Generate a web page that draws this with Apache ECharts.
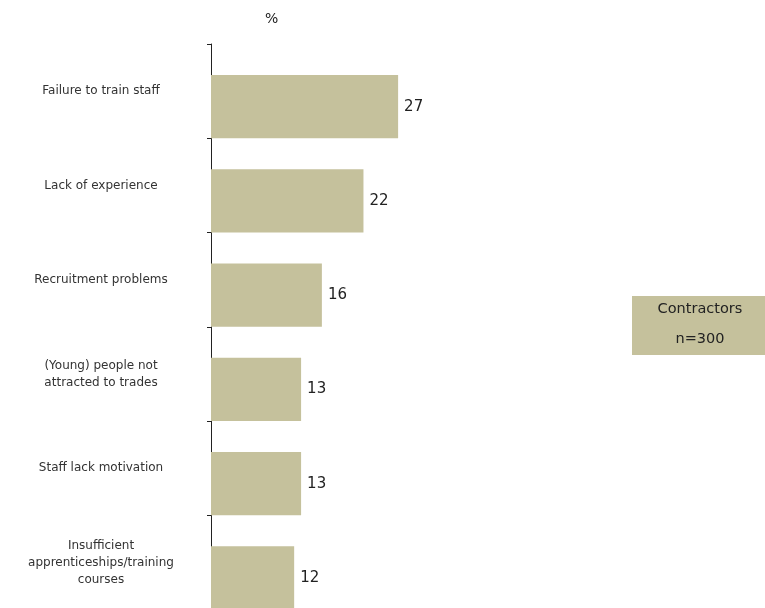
<!DOCTYPE html>
<html>
<head>
<meta charset="utf-8">
<script src="https://cdn.jsdelivr.net/npm/echarts@6/dist/echarts.min.js"></script>
<style>html,body{margin:0;padding:0;background:#fff;}#c{width:765px;height:608px;}</style>
</head>
<body>
<div id="c"></div>
<script>
const categories = [
  "Failure to train staff",
  "Lack of experience",
  "Recruitment problems",
  "(Young) people not\nattracted to trades",
  "Staff lack motivation",
  "Insufficient\napprenticeships/training\ncourses"
];
const values = [27, 22, 16, 13, 13, 12];
const unitLabel = "%";
const legendLines = ["Contractors", "n=300"];

const barColor = "#C5C19C";
const font = "'DejaVu Sans', 'Liberation Sans', sans-serif";
const chart = echarts.init(document.getElementById('c'));
chart.setOption({
  animation: false,
  grid: { left: 211, top: 44, width: 346.5, height: 565.5, containLabel: false, outerBoundsMode: 'none' },
  xAxis: { type: 'value', min: 0, max: 50, show: false },
  yAxis: {
    type: 'category', inverse: true, data: categories,
    axisLine: { show: true, lineStyle: { color: '#222', width: 1 } },
    axisTick: { show: true, length: 4, lineStyle: { color: '#222' } },
    axisLabel: { margin: 110, align: 'center', fontFamily: font, fontSize: 12, color: '#333', lineHeight: 17, padding: [3, 0, 0, 0] }
  },
  series: [
    { type: 'bar', data: values.map(() => null), barWidth: 31, barGap: 0, silent: true },
    { type: 'bar', data: values, barWidth: 63.3, barGap: 0,
      itemStyle: { color: barColor },
      label: { show: true, position: 'right', distance: 6, fontFamily: font, fontSize: 15, color: '#222' } }
  ],
  graphic: [
    { type: 'text', left: 265, top: 12, style: { text: unitLabel, font: "14px " + font, fill: '#222' } },
    { type: 'rect', shape: { x: 632, y: 296, width: 133, height: 59 }, style: { fill: barColor } },
    { type: 'text', x: 700, y: 309, style: { text: legendLines[0], font: "14.5px " + font, fill: '#222', align: 'center', verticalAlign: 'middle' } },
    { type: 'text', x: 700, y: 339, style: { text: legendLines[1], font: "14.5px " + font, fill: '#222', align: 'center', verticalAlign: 'middle' } }
  ]
});
</script>
</body>
</html>
